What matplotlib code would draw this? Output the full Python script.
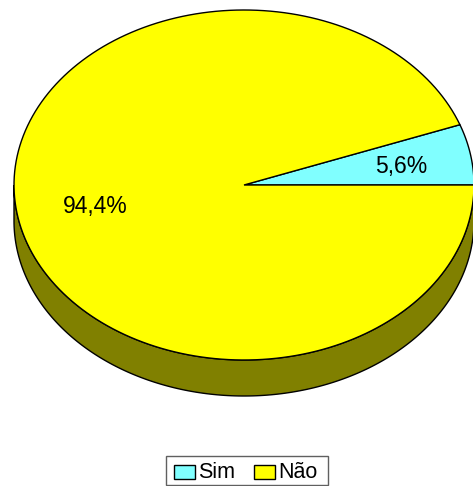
import numpy as np
import matplotlib
matplotlib.use("Agg")
import matplotlib.pyplot as plt
from matplotlib.patches import Polygon, Rectangle

plt.rcParams['font.family'] = ['Liberation Sans', 'DejaVu Sans']

labels = ['Sim', 'Não']
values = [5.6, 94.4]
top_colors = ['#80FFFF', '#FFFF00']
side_colors = ['#408080', '#808000']

# ellipse geometry in pixel units (y grows downward)
cx, cy = 244, 185
rx, ry = 230, 175
depth = 36


def arc(t0, t1, dy=0.0, n=200):
    t = np.radians(np.linspace(t0, t1, n))
    return np.column_stack([cx + rx * np.cos(t), cy - ry * np.sin(t) + dy])


fig = plt.figure(figsize=(4.73, 4.86), dpi=100)
ax = fig.add_axes([0, 0, 1, 1])
ax.set_xlim(0, 473)
ax.set_ylim(486, 0)
ax.axis('off')

total = sum(values)
bounds = np.concatenate([[0], np.cumsum(values) / total * 360])

# front walls: only the part of each slice lying in the lower half is visible
for i in range(len(values)):
    a0, a1 = max(bounds[i], 180), min(bounds[i + 1], 360)
    if a1 <= a0:
        continue
    top = arc(a0, a1)
    bottom = arc(a1, a0, dy=depth)
    ax.add_patch(Polygon(np.vstack([top, bottom]), closed=True,
                         facecolor=side_colors[i], edgecolor='black', lw=1.0))

# top faces
for i in range(len(values)):
    pts = np.vstack([[cx, cy], arc(bounds[i], bounds[i + 1])])
    ax.add_patch(Polygon(pts, closed=True, facecolor=top_colors[i],
                         edgecolor='black', lw=1.0))

# percentage labels
label_pos = [(401, 166), (95, 206)]
for v, (x, y) in zip(values, label_pos):
    ax.text(x, y, f"{v:.1f}%".replace('.', ','), ha='center', va='center',
            fontsize=16.5, color='black')

# legend
ax.add_patch(Rectangle((166, 456), 162, 29, facecolor='white',
                       edgecolor='#606060', lw=1.0))
legend_x = [174, 254]
for lab, col, x in zip(labels, top_colors, legend_x):
    ax.add_patch(Rectangle((x, 465), 21, 14, facecolor=col,
                           edgecolor='black', lw=1.0))
    ax.text(x + 24, 472.5, lab, ha='left', va='center', fontsize=15.5)

fig.savefig('out.png', dpi=100)
